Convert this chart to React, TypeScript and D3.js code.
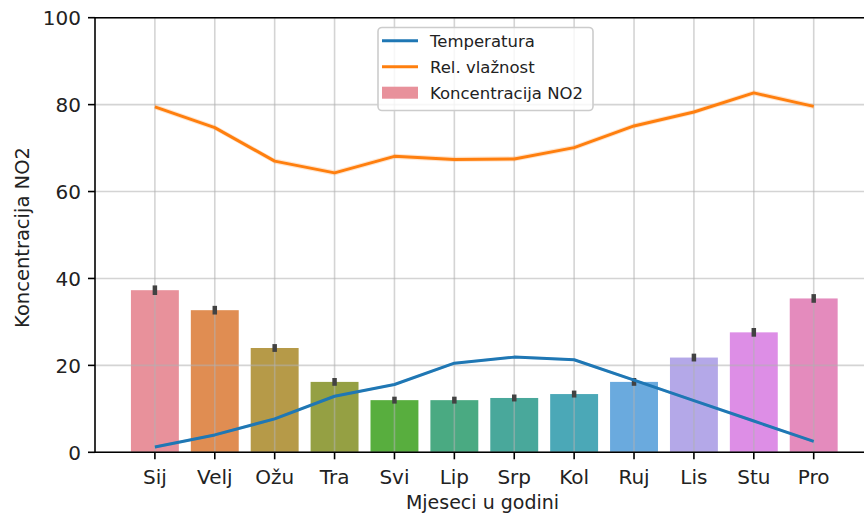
import React from "react";
import * as d3 from "d3";

const MONTHS = ["Sij", "Velj", "Ožu", "Tra", "Svi", "Lip", "Srp", "Kol", "Ruj", "Lis", "Stu", "Pro"];
const NO2 = [37.3, 32.7, 24.0, 16.2, 12.0, 12.0, 12.5, 13.4, 16.2, 21.8, 27.6, 35.4];
const NO2_ERR = [1.1, 1.0, 0.9, 0.9, 0.8, 0.8, 0.8, 0.8, 0.9, 0.9, 1.0, 1.0];
const TEMP = [1.2, 4.0, 7.7, 12.9, 15.6, 20.5, 21.9, 21.3, 16.6, 11.9, 7.2, 2.5];
const TEMP_CI = [0.3, 0.3, 0.3, 0.3, 0.3, 0.3, 0.3, 0.3, 0.3, 0.3, 0.3, 0.3];
const HUM = [79.5, 74.7, 67.0, 64.3, 68.1, 67.4, 67.5, 70.1, 75.1, 78.3, 82.7, 79.6];
const HUM_CI = [0.6, 0.6, 0.6, 0.6, 0.6, 0.6, 0.6, 0.6, 0.6, 0.6, 0.6, 0.6];
const BAR_COLORS = ["#e8919b", "#e08d52", "#b69a48", "#95a043", "#58ae3e", "#4aaa82", "#49a89b", "#4ba8b7", "#6aaade", "#b4a8e8", "#dd8ee6", "#e48bbd"];
const Y_TICKS = [0, 20, 40, 60, 80, 100];
const LEGEND = ["Temperatura", "Rel. vlažnost", "Koncentracija NO2"];

const W = 864;
const H = 515;
const FONT = "DejaVu Sans, sans-serif";

export default function App() {
  const x = d3.scaleLinear().domain([-1, 11.94]).range([95, 870]);
  const y = d3.scaleLinear().domain([0, 100]).range([452.3, 17.7]);
  const bw = 0.8 * (x(1) - x(0));
  const idx = d3.range(MONTHS.length);
  const line = (vals: number[]) =>
    d3.line<number>().x((i) => x(i)).y((i) => y(vals[i]))(idx) || "";
  const band = (vals: number[], ci: number[]) =>
    d3
      .area<number>()
      .x((i) => x(i))
      .y0((i) => y(vals[i] - ci[i]))
      .y1((i) => y(vals[i] + ci[i]))(idx) || "";

  const x0 = x.range()[0];
  const x1 = x.range()[1];
  const y0 = y.range()[0];
  const y1 = y.range()[1];

  return (
    <svg
      width={W}
      height={H}
      style={{ position: "absolute", left: 0, top: 0, background: "#fff" }}
      fontFamily={FONT}
    >
      <rect x={0} y={0} width={W} height={H} fill="#fff" />
      {idx.map((i) => (
        <rect
          key={"b" + i}
          x={x(i) - bw / 2}
          y={y(NO2[i])}
          width={bw}
          height={y(0) - y(NO2[i])}
          fill={BAR_COLORS[i]}
        />
      ))}
      {Y_TICKS.map((t) => (
        <line key={"gy" + t} x1={x0} x2={x1} y1={y(t)} y2={y(t)} stroke="#b0b0b0" strokeOpacity={0.55} strokeWidth={1.6} />
      ))}
      {idx.map((i) => (
        <line key={"gx" + i} x1={x(i)} x2={x(i)} y1={y0} y2={y1} stroke="#b0b0b0" strokeOpacity={0.55} strokeWidth={1.6} />
      ))}
      {idx.map((i) => (
        <line
          key={"e" + i}
          x1={x(i)}
          x2={x(i)}
          y1={y(NO2[i] - NO2_ERR[i])}
          y2={y(NO2[i] + NO2_ERR[i])}
          stroke="#424242"
          strokeWidth={4.5}
        />
      ))}
      <path d={band(TEMP, TEMP_CI)} fill="#1f77b4" fillOpacity={0.2} />
      <path d={line(TEMP)} fill="none" stroke="#1f77b4" strokeWidth={3} strokeLinejoin="round" />
      <path d={band(HUM, HUM_CI)} fill="#ff7f0e" fillOpacity={0.2} />
      <path d={line(HUM)} fill="none" stroke="#ff7f0e" strokeWidth={3} strokeLinejoin="round" />
      <line x1={x0} x2={x0} y1={y0} y2={y1} stroke="#000" strokeWidth={1.6} />
      <line x1={x0} x2={x1} y1={y0} y2={y0} stroke="#000" strokeWidth={1.6} />
      <line x1={x0} x2={x1} y1={y1} y2={y1} stroke="#000" strokeWidth={1.6} />
      {Y_TICKS.map((t) => (
        <g key={"ty" + t}>
          <line x1={x0 - 7} x2={x0} y1={y(t)} y2={y(t)} stroke="#000" strokeWidth={1.6} />
          <text x={81} y={y(t) + 7.6} textAnchor="end" fontSize={20} fill="#222">
            {t}
          </text>
        </g>
      ))}
      {idx.map((i) => (
        <g key={"tx" + i}>
          <line x1={x(i)} x2={x(i)} y1={y0} y2={y0 + 7} stroke="#000" strokeWidth={1.6} />
          <text x={x(i)} y={484} textAnchor="middle" fontSize={20} fill="#222">
            {MONTHS[i]}
          </text>
        </g>
      ))}
      <text x={482.5} y={509} textAnchor="middle" fontSize={19} fill="#222">
        Mjeseci u godini
      </text>
      <text
        transform={`translate(28.5, ${(y0 + y1) / 2 + 2.5}) rotate(-90)`}
        textAnchor="middle"
        fontSize={19.5}
        fill="#222"
      >
        Koncentracija NO2
      </text>
      <rect x={378} y={27.5} width={215} height={83} rx={4} fill="#fff" fillOpacity={0.8} stroke="#cccccc" strokeWidth={1.6} />
      <line x1={382} x2={418} y1={40.7} y2={40.7} stroke="#1f77b4" strokeWidth={3} />
      <line x1={382} x2={418} y1={66.7} y2={66.7} stroke="#ff7f0e" strokeWidth={3} />
      <rect x={382} y={86.7} width={36} height={12} fill={BAR_COLORS[0]} />
      {LEGEND.map((s, k) => (
        <text key={"l" + k} x={430} y={47 + k * 26} fontSize={16.5} fill="#222">
          {s}
        </text>
      ))}
    </svg>
  );
}
